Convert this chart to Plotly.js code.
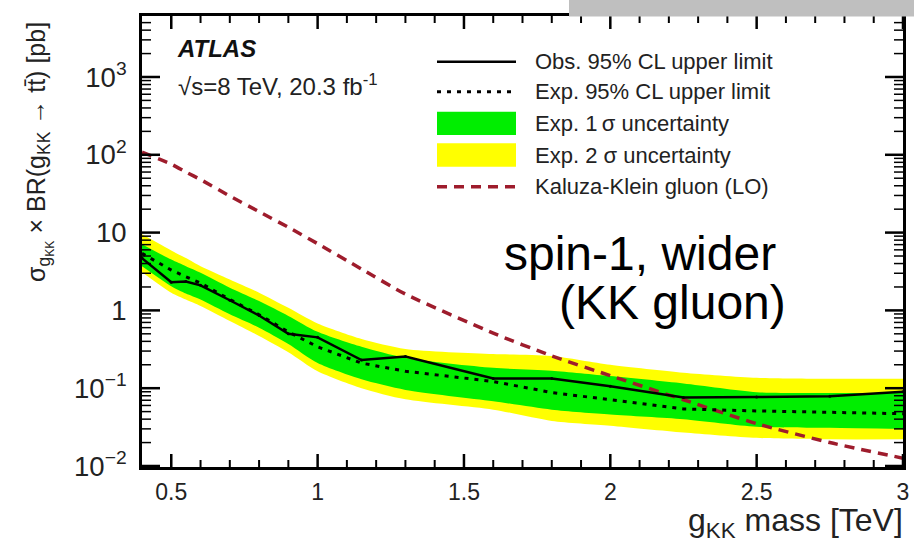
<!DOCTYPE html>
<html>
<head>
<meta charset="utf-8">
<script src="https://cdn.plot.ly/plotly-3.0.1.min.js"></script>
<style>
  html, body { margin: 0; padding: 0; background: #ffffff; }
  #chart { width: 914px; height: 549px; }
</style>
</head>
<body>
<div id="chart"></div>
<script>
// ---- data ----
const mass      = [0.4, 0.5, 0.55, 0.6, 0.7, 0.8, 0.9, 1.0, 1.15, 1.3, 1.6, 1.8, 2.0, 2.25, 2.5, 2.75, 3.0];
const obsLimit  = [4.7, 2.3, 2.35, 2.1, 1.35, 0.86, 0.50, 0.45, 0.23, 0.255, 0.133, 0.133, 0.106, 0.076, 0.077, 0.079, 0.090];
const expLimit  = [5.4, 3.3, 2.7, 2.25, 1.38, 0.88, 0.53, 0.34, 0.21, 0.165, 0.122, 0.088, 0.071, 0.054, 0.051, 0.049, 0.047];
const exp1sUp   = [7.1, 4.5, 3.7, 3.05, 1.96, 1.32, 0.85, 0.53, 0.34, 0.245, 0.183, 0.168, 0.143, 0.115, 0.089, 0.087, 0.087];
const exp1sDn   = [3.7, 2.05, 1.65, 1.38, 0.89, 0.60, 0.37, 0.21, 0.13, 0.095, 0.068, 0.053, 0.046, 0.040, 0.032, 0.031, 0.030];
const exp2sUp   = [9.5, 5.9, 4.7, 3.7, 2.5, 1.69, 1.08, 0.68, 0.43, 0.32, 0.275, 0.26, 0.20, 0.158, 0.136, 0.132, 0.132];
const exp2sDn   = [3.1, 1.69, 1.38, 1.14, 0.73, 0.47, 0.29, 0.165, 0.10, 0.072, 0.053, 0.038, 0.033, 0.027, 0.023, 0.022, 0.022];
const kkGluon   = [108, 76, 60, 48, 29.5, 18.6, 11.7, 7.2, 3.4, 1.62, 0.51, 0.26, 0.145, 0.071, 0.035, 0.020, 0.0126];

// tick positions (axis decoration) and spacing
const xTickStep = 0.5;
const yDecadeStep = 1;
const xMajorTicks = [0.5, 1.0, 1.5, 2.0, 2.5, 3.0];
const xMinorTicks = [0.6, 0.7, 0.8, 0.9, 1.1, 1.2, 1.3, 1.4, 1.6, 1.7, 1.8, 1.9, 2.1, 2.2, 2.3, 2.4, 2.6, 2.7, 2.8, 2.9];
const yMajorTicks = [0.01, 0.1, 1, 10, 100, 1000];
const yMinorTicks = [];
for (let e = -2; e <= 3; e++) { for (let k = 2; k <= 9; k++) { const v = k * Math.pow(10, e); if (v < 6000) yMinorTicks.push(v); } }

const legendLabels = ["Obs. 95% CL upper limit", "Exp. 95% CL upper limit",
                      "Exp. 1\u2009\u03c3 uncertainty", "Exp. 2 \u03c3 uncertainty",
                      "Kaluza-Klein gluon (LO)"];

const FONT = "Liberation Sans, Arial, Helvetica, sans-serif";
const GREEN = "#00ee00", YELLOW = "#ffff00", KKRED = "#9e1c2c";

const traces = [
  {x: mass, y: exp2sDn, mode: "lines", line: {width: 0, shape: "spline", smoothing: 0.7}, hoverinfo: "skip", showlegend: false},
  {x: mass, y: exp2sUp, mode: "lines", fill: "tonexty", fillcolor: YELLOW, line: {width: 0, shape: "spline", smoothing: 0.7}, showlegend: false},
  {x: mass, y: exp1sDn, mode: "lines", line: {width: 0, shape: "spline", smoothing: 0.7}, hoverinfo: "skip", showlegend: false},
  {x: mass, y: exp1sUp, mode: "lines", fill: "tonexty", fillcolor: GREEN, line: {width: 0, shape: "spline", smoothing: 0.7}, showlegend: false},
  {x: mass, y: kkGluon, mode: "lines", line: {color: KKRED, width: 3.5, dash: "10px,7px", shape: "spline", smoothing: 0.6}, showlegend: false},
  {x: mass, y: expLimit, mode: "lines", line: {color: "#000000", width: 3, dash: "4px,6px"}, showlegend: false},
  {x: mass, y: obsLimit, mode: "lines+markers", line: {color: "#000000", width: 2.5}, marker: {size: 3, color: "#000000"}, showlegend: false}
];

// pixel helpers for the hand-built legend / annotations (paper coords)
const PL = 142, PR = 903, PT = 16, PB = 467;
const px = v => (v - PL) / (PR - PL);
const py = v => (PB - v) / (PB - PT);

const rowsY = [61.7, 91.7, 123.3, 155, 186.7];
const sx0 = px(437), sx1 = px(516);

const shapes = [
  {type: "line", xref: "paper", yref: "paper", x0: sx0, x1: sx1, y0: py(rowsY[0]), y1: py(rowsY[0]), line: {color: "#000", width: 2.5}},
  {type: "line", xref: "paper", yref: "paper", x0: sx0, x1: sx1, y0: py(rowsY[1]), y1: py(rowsY[1]), line: {color: "#000", width: 3, dash: "4px,6px"}},
  {type: "rect", xref: "paper", yref: "paper", x0: sx0, x1: sx1, y0: py(135), y1: py(111.7), fillcolor: GREEN, line: {width: 0}},
  {type: "rect", xref: "paper", yref: "paper", x0: sx0, x1: sx1, y0: py(166.7), y1: py(143.3), fillcolor: YELLOW, line: {width: 0}},
  {type: "line", xref: "paper", yref: "paper", x0: sx0, x1: sx1, y0: py(rowsY[4]), y1: py(rowsY[4]), line: {color: KKRED, width: 3.5, dash: "10px,7px"}}
];

// inside tick marks on all four sides, placed through the axes' own scales
function xTick(v, len, w) {
  shapes.push({type: "line", xref: "x", yref: "paper", ysizemode: "pixel", yanchor: 0, x0: v, x1: v, y0: 0, y1: len, line: {color: "#000", width: w}});
  shapes.push({type: "line", xref: "x", yref: "paper", ysizemode: "pixel", yanchor: 1, x0: v, x1: v, y0: 0, y1: -len, line: {color: "#000", width: w}});
}
function yTick(v, len, w) {
  shapes.push({type: "line", xref: "paper", yref: "y", xsizemode: "pixel", xanchor: 0, x0: 0, x1: len, y0: v, y1: v, line: {color: "#000", width: w}});
  shapes.push({type: "line", xref: "paper", yref: "y", xsizemode: "pixel", xanchor: 1, x0: 0, x1: -len, y0: v, y1: v, line: {color: "#000", width: w}});
}
xMajorTicks.forEach(v => xTick(v, 13, 2.5));
xMinorTicks.forEach(v => xTick(v, 7, 2));
yMajorTicks.forEach(v => yTick(v, 18, 2.5));
yMinorTicks.forEach(v => yTick(v, 9, 1.5));

// grey strip at the top right of the slide
shapes.push({type: "rect", xref: "paper", yref: "paper", layer: "above", x0: px(569), x1: px(914), y0: py(16.5), y1: py(0), fillcolor: "#bfbfbf", line: {width: 0}});

const annotations = legendLabels.map((t, i) => ({
  text: t, xref: "paper", yref: "paper", x: px(533), y: py(rowsY[i]), xanchor: "left", yanchor: "middle",
  showarrow: false, font: {size: 22, color: "#222"}
}));
annotations.push(
  {text: "<b><i>ATLAS</i></b>", xref: "paper", yref: "paper", x: px(175), y: py(48.5), xanchor: "left", yanchor: "middle",
   showarrow: false, font: {size: 24, color: "#111"}},
  {text: "\u221As=8 TeV, 20.3 fb<sup>-1</sup>", xref: "paper", yref: "paper", x: px(176), y: py(85), xanchor: "left", yanchor: "middle",
   showarrow: false, font: {size: 24, color: "#222"}},
  {text: "spin-1, wider", xref: "paper", yref: "paper", x: px(640), y: py(253), xanchor: "center", yanchor: "middle",
   showarrow: false, font: {size: 48, color: "#000"}},
  {text: "(KK gluon)", xref: "paper", yref: "paper", x: px(672), y: py(302), xanchor: "center", yanchor: "middle",
   showarrow: false, font: {size: 48, color: "#000"}},
  {text: "\u03c3<sub>g<sub>KK</sub></sub> \u00d7 BR(g<sub>KK</sub> \u2192 tt\u0304) [pb]", xref: "paper", yref: "paper",
   x: px(40), y: py(152), xanchor: "center", yanchor: "middle", textangle: -90,
   showarrow: false, font: {size: 25, color: "#222"}},
  {text: "g<sub>KK</sub> mass [TeV]", xref: "paper", yref: "paper", x: px(905), y: py(522), xanchor: "right", yanchor: "middle",
   showarrow: false, font: {size: 32, color: "#222"}}
);

const layout = {
  width: 914, height: 549,
  margin: {l: PL, r: 914 - PR, t: PT, b: 549 - PB, pad: 0},
  paper_bgcolor: "#ffffff", plot_bgcolor: "#ffffff",
  showlegend: false,
  font: {family: FONT, color: "#222"},
  xaxis: {
    range: [0.4, 3.0], type: "linear",
    tickmode: "linear", tick0: 0, dtick: xTickStep, ticks: "",
    showline: true, linewidth: 3, linecolor: "#000000", mirror: true,
    showgrid: false, zeroline: false,
    ticklabelstandoff: 2,
    tickfont: {size: 23, color: "#222"}
  },
  yaxis: {
    type: "log", range: [-2.013, 3.784],
    tickmode: "linear", tick0: 0, dtick: yDecadeStep, exponentformat: "power", ticks: "",
    showline: true, linewidth: 3, linecolor: "#000000", mirror: true,
    showgrid: false, zeroline: false,
    ticklabelstandoff: 8,
    tickfont: {size: 22, color: "#222"}
  },
  shapes: shapes,
  annotations: annotations
};

Plotly.newPlot("chart", traces, layout, {displayModeBar: false, staticPlot: true});
</script>
</body>
</html>
